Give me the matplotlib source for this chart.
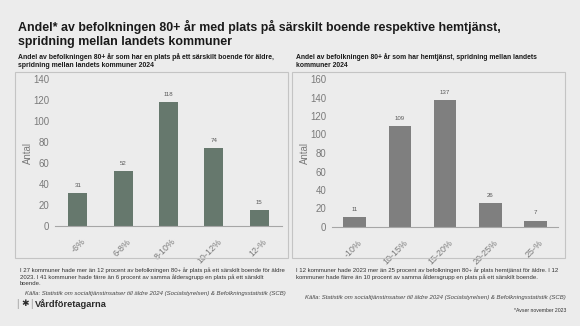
import matplotlib
matplotlib.use("Agg")
import matplotlib.pyplot as plt
from matplotlib.patches import Rectangle
from matplotlib.transforms import ScaledTranslation

plt.rcParams["font.family"] = ["Liberation Sans", "DejaVu Sans"]

# Data
sabo_categories = ["-6%", "6-8%", "8-10%", "10-12%", "12-%"]
sabo_counts = [31, 52, 118, 74, 15]
hemtj_categories = ["-10%", "10-15%", "15-20%", "20-25%", "25-%"]
hemtj_counts = [11, 109, 137, 26, 7]

title = ("Andel* av befolkningen 80+ år med plats på särskilt boende respektive hemtjänst,\n"
         "spridning mellan landets kommuner")
sabo_title = ("Andel av befolkningen 80+ år som har en plats på ett särskilt boende för äldre,\n"
              "spridning mellan landets kommuner 2024")
hemtj_title = ("Andel av befolkningen 80+ år som har hemtjänst, spridning mellan landets\n"
               "kommuner 2024")
sabo_note = ("I 27 kommuner hade mer än 12 procent av befolkningen 80+ år plats på ett särskilt boende för äldre\n"
             "2023. I 41 kommuner hade färre än 6 procent av samma åldersgrupp en plats på ett särskilt\n"
             "boende.")
hemtj_note = ("I 12 kommuner hade 2023 mer än 25 procent av befolkningen 80+ år plats hemtjänst för äldre. I 12\n"
              "kommuner hade färre än 10 procent av samma åldersgrupp en plats på ett särskilt boende.")
source = "Källa: Statistik om socialtjänstinsatser till äldre 2024 (Socialstyrelsen) & Befolkningsstatistik (SCB)"
footnote = "*Avser november 2023"

BG = "#ececec"
W, H = 580, 326
fig = plt.figure(figsize=(W / 100, H / 100), dpi=100, facecolor=BG)


def fx(px):
    return px / W


def fy(py):
    return 1 - py / H


# Panel frames
for x0, x1, y0, y1 in [(15, 288, 72, 258), (292, 565, 72, 258)]:
    fig.patches.append(Rectangle((fx(x0), fy(y1)), fx(x1 - x0), (y1 - y0) / H,
                                 transform=fig.transFigure, fill=False,
                                 edgecolor="#c4c4c4", linewidth=0.8))

fig.text(fx(18), fy(34), title, fontsize=8.95, fontweight="bold", color="#1a1a1a",
         va="center", ha="left", linespacing=1.25)
fig.text(fx(18), fy(61), sabo_title, fontsize=4.95, fontweight="bold", color="#1a1a1a",
         va="center", ha="left", linespacing=1.2)
fig.text(fx(296), fy(61), hemtj_title, fontsize=4.85, fontweight="bold", color="#1a1a1a",
         va="center", ha="left", linespacing=1.2)


def draw_panel(rect, cats, vals, color, ymax, width):
    ax = fig.add_axes(rect)
    ax.set_facecolor("none")
    x = range(len(cats))
    bars = ax.bar(x, vals, width=width, color=color)
    for b, v in zip(bars, vals):
        ax.text(b.get_x() + b.get_width() / 2, v + ymax * 0.035, str(v),
                ha="center", va="bottom", fontsize=4.4, color="#595959")
    ax.set_xlim(-0.5, len(cats) - 0.5)
    ax.set_ylim(0, ymax)
    ax.set_yticks(range(0, ymax + 1, 20))
    ax.set_xticks(list(x))
    ax.set_xticklabels(cats, rotation=45, ha="right", rotation_mode="anchor")
    ax.tick_params(axis="y", length=0, labelsize=6.9, labelcolor="#7a7a7a", pad=4)
    ax.tick_params(axis="x", length=0, labelsize=6.4, labelcolor="#7a7a7a", pad=8)
    shift = ScaledTranslation(3 / 100, 0, fig.dpi_scale_trans)
    for lbl in ax.get_xticklabels():
        lbl.set_transform(lbl.get_transform() + shift)
    for s in ["top", "right", "left"]:
        ax.spines[s].set_visible(False)
    ax.spines["bottom"].set_color("#a6a6a6")
    ax.spines["bottom"].set_linewidth(0.8)
    ax.set_ylabel("Antal", fontsize=6.9, color="#7a7a7a", labelpad=0)
    return ax


draw_panel([fx(55), fy(226), fx(227), (226 - 79) / H], sabo_categories, sabo_counts,
           "#66786d", 140, 0.42)
draw_panel([fx(332), fy(227), fx(226), (227 - 79) / H], hemtj_categories, hemtj_counts,
           "#7f7f7f", 160, 0.5)

# Notes and sources
fig.text(fx(20), fy(277), sabo_note, fontsize=4.35, color="#333333", va="center",
         ha="left", linespacing=1.3)
fig.text(fx(25), fy(293), source, fontsize=4.35, color="#444444", style="italic",
         va="center", ha="left")
fig.text(fx(296), fy(273.5), hemtj_note, fontsize=4.35, color="#333333", va="center",
         ha="left", linespacing=1.3)
fig.text(fx(305), fy(297), source, fontsize=4.35, color="#444444", style="italic",
         va="center", ha="left")
fig.text(fx(566), fy(311), footnote, fontsize=3.7, color="#333333", va="center", ha="right")

# Logo
fig.text(fx(16), fy(304), "|", fontsize=7, color="#9a9a9a", va="center", ha="left")
fig.text(fx(21), fy(304), "✱", fontsize=6.5, color="#2b2b2b", va="center", ha="left",
         family=["DejaVu Sans"], fontweight="bold")
fig.text(fx(30), fy(304), "|", fontsize=7, color="#9a9a9a", va="center", ha="left")
fig.text(fx(35), fy(304), "Vårdföretagarna", fontsize=6.7, color="#2b2b2b",
         fontweight="bold", va="center", ha="left")

fig.savefig("out.png", dpi=100, facecolor=BG)
